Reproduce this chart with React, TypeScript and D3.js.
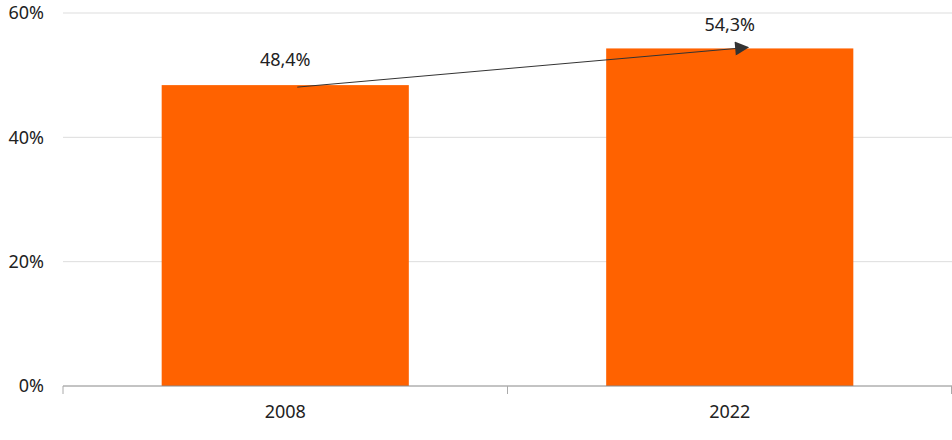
import React from "react";
import { scaleBand, scaleLinear } from "d3";

const years = ["2008", "2022"];
const shares = [48.4, 54.3];
const labels = ["48,4%", "54,3%"];
const yTicks = [0, 20, 40, 60];

const W = 952;
const H = 440;
const margin = { top: 13, right: 0, bottom: 54, left: 63 };

export default function App() {
  const x = scaleBand()
    .domain(years)
    .range([margin.left, W - margin.right])
    .paddingInner(0.444)
    .paddingOuter(0.222);

  const y = scaleLinear()
    .domain([0, 60])
    .range([H - margin.bottom, margin.top]);

  const font = "'Noto Sans', 'DejaVu Sans', sans-serif";
  const step = x.step();

  // arrow from the first bar top to the second one
  const ax1 = x(years[0])! + x.bandwidth() / 2 + 12;
  const ay1 = y(shares[0]) + 2;
  const ax2 = x(years[1])! + x.bandwidth() / 2 + 18;
  const ay2 = y(shares[1]) - 1;

  return (
    <div style={{ position: "absolute", left: 0, top: 0 }}>
      <svg width={W} height={H} style={{ display: "block", background: "#fff" }}>
        <defs>
          <marker
            id="arrow"
            viewBox="0 0 10 10"
            refX="9"
            refY="5"
            markerWidth="16"
            markerHeight="14"
            markerUnits="userSpaceOnUse"
            orient="auto"
          >
            <path d="M0,0 L10,5 L0,10 Z" fill="#333" />
          </marker>
        </defs>

        {/* Gridlines */}
        {yTicks
          .filter((t) => t > 0)
          .map((t) => (
            <line
              key={t}
              x1={margin.left}
              x2={W - margin.right}
              y1={y(t)}
              y2={y(t)}
              stroke="#dddddd"
              strokeWidth={1}
            />
          ))}

        {/* Y labels */}
        {yTicks.map((t) => (
          <text
            key={t}
            x={44}
            y={y(t)}
            dy="0.35em"
            textAnchor="end"
            fontFamily={font}
            fontSize={18}
            fill="#222"
          >
            {t}%
          </text>
        ))}

        {/* Bars */}
        {years.map((yr, i) => (
          <rect
            key={yr}
            x={x(yr)}
            y={y(shares[i])}
            width={x.bandwidth()}
            height={y(0) - y(shares[i])}
            fill="#ff6200"
          />
        ))}

        {/* X axis */}
        <line
          x1={margin.left}
          x2={W - margin.right}
          y1={y(0)}
          y2={y(0)}
          stroke="#888"
          strokeWidth={1}
        />
        {[0, 1, 2].map((k) => (
          <line
            key={k}
            x1={Math.min(margin.left + k * step, W - 0.5)}
            x2={Math.min(margin.left + k * step, W - 0.5)}
            y1={y(0)}
            y2={y(0) + 8}
            stroke="#aaa"
            strokeWidth={1}
          />
        ))}
        {years.map((yr) => (
          <text
            key={yr}
            x={x(yr)! + x.bandwidth() / 2}
            y={418}
            textAnchor="middle"
            fontFamily={font}
            fontSize={18}
            fill="#222"
          >
            {yr}
          </text>
        ))}

        {/* Value labels */}
        <text
          x={x(years[0])! + x.bandwidth() / 2}
          y={y(shares[0]) - 19}
          textAnchor="middle"
          fontFamily={font}
          fontSize={18}
          fill="#222"
        >
          {labels[0]}
        </text>
        <text
          x={x(years[1])! + x.bandwidth() / 2}
          y={y(shares[1]) - 17}
          textAnchor="middle"
          fontFamily={font}
          fontSize={18}
          fill="#222"
        >
          {labels[1]}
        </text>

        {/* Arrow */}
        <line
          x1={ax1}
          y1={ay1}
          x2={ax2}
          y2={ay2}
          stroke="#333"
          strokeWidth={1}
          markerEnd="url(#arrow)"
        />
      </svg>
    </div>
  );
}
